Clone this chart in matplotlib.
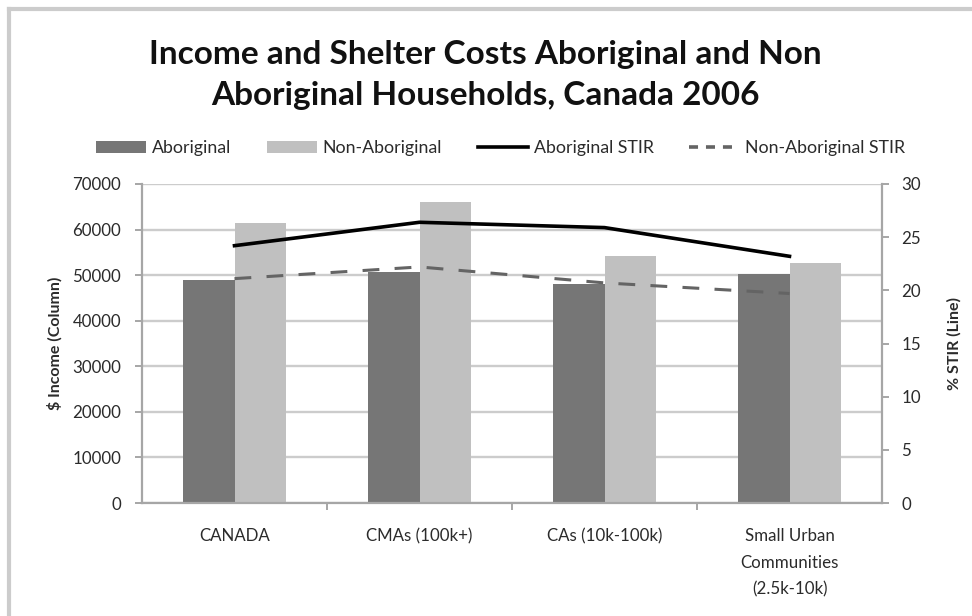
import matplotlib
matplotlib.use("Agg")
import matplotlib.pyplot as plt
import numpy as np
from matplotlib.lines import Line2D
from matplotlib.patches import Patch

plt.rcParams['font.family'] = ['Lato', 'DejaVu Sans']

categories = ["CANADA", "CMAs (100k+)", "CAs (10k-100k)",
              "Small Urban\nCommunities\n(2.5k-10k)"]
income_aboriginal = [49000, 50600, 48000, 50300]
income_non_aboriginal = [61400, 66100, 54300, 52700]
stir_aboriginal = [24.2, 26.4, 25.9, 23.2]
stir_non_aboriginal = [21.1, 22.2, 20.7, 19.7]

income_ticks = list(range(0, 70001, 10000))
stir_ticks = list(range(0, 31, 5))

DARK = "#767676"
LIGHT = "#c0c0c0"
GRID = "#cccccc"
AXIS = "#a6a6a6"
TXT = "#2b2b2b"
FS = 12.2

fig = plt.figure(figsize=(9.72, 6.16), dpi=100)
ax = fig.add_axes([142 / 972, 1 - 503 / 616, 740 / 972, 319 / 616])

x = np.arange(len(categories))
w = 0.28
ax.bar(x - w / 2, income_aboriginal, width=w, color=DARK, zorder=2)
ax.bar(x + w / 2, income_non_aboriginal, width=w, color=LIGHT, zorder=2)

ax.set_xlim(-0.5, len(categories) - 0.5)
ax.set_ylim(0, 70000)
ax.set_yticks(income_ticks)
ax.set_yticklabels([str(t) for t in income_ticks])
ax.yaxis.grid(True, color=GRID, linewidth=1.7, zorder=0)
ax.set_axisbelow(True)

ax.set_xticks(x)
ax.set_xticklabels(categories, linespacing=1.82, va="top")
ax.set_xticks(np.arange(-0.5, len(categories), 1.0)[1:-1], minor=True)
ax.tick_params(axis="x", which="major", length=0, pad=18, labelsize=FS, labelcolor=TXT)
ax.tick_params(axis="x", which="minor", length=5, width=1.4, color=AXIS, direction="out")
ax.tick_params(axis="y", length=5, width=1.4, color=AXIS, pad=10, labelsize=FS, labelcolor=TXT)

for s in ["top", "right"]:
    ax.spines[s].set_visible(False)
for s in ["left", "bottom"]:
    ax.spines[s].set_color(AXIS)
    ax.spines[s].set_linewidth(1.6)

ax2 = ax.twinx()
ax2.set_ylim(0, 30)
ax2.set_yticks(stir_ticks)
ax2.plot(x, stir_aboriginal, color="black", linewidth=2.6, zorder=3)
ax2.plot(x, stir_non_aboriginal, color="#646464", linewidth=2.2,
         dashes=(5.5, 5.0), zorder=3)
for s in ["top", "left", "bottom"]:
    ax2.spines[s].set_visible(False)
ax2.spines["right"].set_color(AXIS)
ax2.spines["right"].set_linewidth(1.6)
ax2.tick_params(axis="y", length=5, width=1.4, color=AXIS, pad=9, labelsize=FS, labelcolor=TXT)

ax.set_ylabel("$ Income (Column)", fontsize=11.5, fontweight="bold", color=TXT, labelpad=7)
ax2.set_ylabel("% STIR (Line)", fontsize=11.5, fontweight="bold", color=TXT, labelpad=19)

fig.text(485 / 972, 1 - 75 / 616,
         "Income and Shelter Costs Aboriginal and Non\nAboriginal Households, Canada 2006",
         ha="center", va="center", fontsize=24, fontweight="bold", color="#111111",
         linespacing=1.48)

handles = [
    Patch(facecolor=DARK, edgecolor="none"),
    Patch(facecolor=LIGHT, edgecolor="none"),
    Line2D([], [], color="black", linewidth=2.6),
    Line2D([], [], color="#646464", linewidth=2.6, dashes=(2.5, 2.2)),
]
labels = ["Aboriginal", "Non-Aboriginal", "Aboriginal STIR", "Non-Aboriginal STIR"]
fig.legend(handles, labels, loc="center left", bbox_to_anchor=(80 / 972, 1 - 148 / 616),
           ncol=4, frameon=False, fontsize=12.8, handlelength=2.8, handleheight=0.62,
           handletextpad=0.35, columnspacing=2.0, labelcolor=TXT)

# light frame around the chart area
fig.add_artist(Line2D([9 / 972, 9 / 972], [0, 1 - 9 / 616], color="#cccccc", linewidth=3,
                      transform=fig.transFigure))
fig.add_artist(Line2D([9 / 972, 1], [1 - 9 / 616, 1 - 9 / 616], color="#cccccc", linewidth=3,
                      transform=fig.transFigure))

fig.savefig("out.png", dpi=100)
